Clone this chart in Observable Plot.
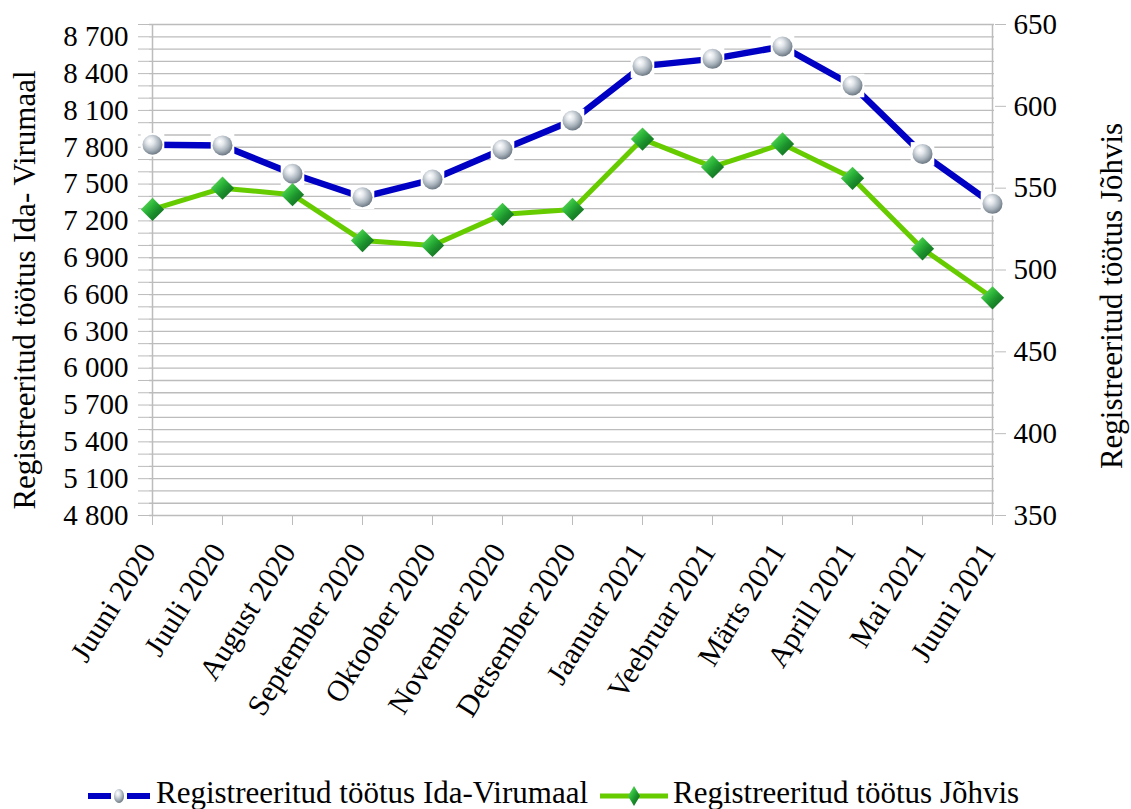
<!DOCTYPE html>
<html>
<head>
<meta charset="utf-8">
<script src="https://cdn.jsdelivr.net/npm/d3@7"></script>
<script src="https://cdn.jsdelivr.net/npm/@observablehq/plot@0.6"></script>
<style>
  html, body { margin: 0; padding: 0; background: #fff; }
  #wrap { position: relative; width: 1131px; height: 809px; background: #fff; font-family: "Liberation Serif", "Times New Roman", serif; color: #000; }
  #chart svg, #chart svg text { font-family: "Liberation Serif", "Times New Roman", serif !important; }
  #legend span.t { position: absolute; font-size: 31px; line-height: 31px; white-space: nowrap; }
  #legend svg { position: absolute; }
</style>
</head>
<body>
<div id="wrap">
  <div id="chart"></div>
  <div id="legend"></div>
</div>
<script>
// ---- data ----
const months = ["Juuni 2020", "Juuli 2020", "August 2020", "September 2020", "Oktoober 2020", "November 2020", "Detsember 2020", "Jaanuar 2021", "Veebruar 2021", "Märts 2021", "Aprill 2021", "Mai 2021", "Juuni 2021"];
const idaVirumaa = [7820, 7815, 7584, 7393, 7537, 7782, 8018, 8461, 8520, 8621, 8303, 7746, 7339];
const johvi = [537, 550, 546, 518, 515, 534, 537, 580, 563, 577, 556, 513, 483];
const leftTicks = [4800, 5100, 5400, 5700, 6000, 6300, 6600, 6900, 7200, 7500, 7800, 8100, 8400, 8700];
const rightTicks = [350, 400, 450, 500, 550, 600, 650];
const seriesNames = ["Registreeritud töötus Ida-Virumaal", "Registreeritud töötus Jõhvis"];
const leftTitle = "Registreeritud töötus Ida- Virumaal";
const rightTitle = "Registreeritud töötus Jõhvis";

// ---- scales mapping ----
const L0 = 4800, L1 = 8800, R0 = 350, R1 = 650;
const toLeft = v => L0 + (v - R0) * (L1 - L0) / (R1 - R0);
const fromLeft = v => R0 + (v - L0) * (R1 - R0) / (L1 - L0);
const fmt = n => n >= 1000 ? `${Math.floor(n / 1000)}\u00a0${String(n % 1000).padStart(3, "0")}` : String(n);

const ida = months.map((m, i) => ({month: m, value: idaVirumaa[i]}));
const joh = months.map((m, i) => ({month: m, value: johvi[i]}));
const grid = d3.range(L0, L1 + 1, 100);

const W = 1131, H = 760;
const gridColor = "#bcbcbc";
const serif = "'Liberation Serif', 'Times New Roman', serif";

const svg = Plot.plot({
  width: W, height: H,
  marginTop: 24, marginBottom: H - 515, marginLeft: 149, marginRight: W - 994,
  x: {type: "point", domain: months, padding: 0, axis: null},
  y: {domain: [L0, L1], axis: null},
  style: {fontFamily: serif, fontSize: "29px", color: "#000", background: "#fff", overflow: "visible"},
  marks: [
    Plot.gridY({ticks: grid, stroke: gridColor, strokeOpacity: 1, strokeWidth: 1.3}),
    Plot.axisY({ticks: grid, tickSize: 11, tickFormat: () => "", label: null, stroke: gridColor, strokeOpacity: 1}),
    Plot.axisY({ticks: leftTicks, tickSize: 0, tickPadding: 21, tickFormat: fmt, label: null, fontSize: 29, fontFamily: serif}),
    Plot.axisY({anchor: "right", ticks: rightTicks.map(toLeft), tickSize: 11, tickPadding: 8, tickFormat: d => String(Math.round(fromLeft(d))), label: null, stroke: gridColor, strokeOpacity: 1, fontSize: 29, fontFamily: serif}),
    Plot.axisX({tickSize: 10, tickFormat: () => "", label: null, stroke: gridColor, strokeOpacity: 1}),
    Plot.ruleX([months[0], months[months.length - 1]], {stroke: gridColor, strokeWidth: 1.5}),
    Plot.text(months, {x: d => d, frameAnchor: "bottom", dy: 31, dx: -4, rotate: -58, textAnchor: "end", lineAnchor: "middle", fontSize: 30, fontFamily: serif}),
    Plot.text([leftTitle], {frameAnchor: "left", dx: -124, dy: 20, rotate: -90, textAnchor: "middle", lineAnchor: "middle", fontSize: 31, fontFamily: serif}),
    Plot.text([rightTitle], {frameAnchor: "right", dx: 118, dy: 26, rotate: -90, textAnchor: "middle", lineAnchor: "middle", fontSize: 31, fontFamily: serif}),
    // Ida-Virumaa series (left axis)
    Plot.line(ida, {x: "month", y: "value", stroke: "#0000c4", strokeWidth: 6.5}),
    Plot.dot(ida, {x: "month", y: "value", symbol: "square", r: 13.3, fill: "#fff", stroke: "none"}),
    Plot.dot(ida, {x: "month", y: "value", r: 10, fill: "url(#sphere)", stroke: "none"}),
    // Jõhvi series (right axis)
    Plot.line(joh, {x: "month", y: d => toLeft(d.value), stroke: "#66cc00", strokeWidth: 5}),
    Plot.dot(joh, {x: "month", y: d => toLeft(d.value), symbol: "diamond2", r: 10.5, fill: "url(#gem)", stroke: "none"})
  ]
});

function addDefs(svgEl) {
  const defs = d3.select(svgEl).insert("defs", ":first-child");
  const rg = defs.append("radialGradient").attr("id", "sphere").attr("cx", "42%").attr("cy", "38%").attr("r", "62%").attr("fx", "36%").attr("fy", "30%");
  [["0%", "#ffffff"], ["30%", "#e4e8ec"], ["70%", "#a7b1ba"], ["100%", "#6e7a85"]].forEach(([o, c]) => rg.append("stop").attr("offset", o).attr("stop-color", c));
  const lg = defs.append("linearGradient").attr("id", "gem").attr("x1", "0%").attr("y1", "0%").attr("x2", "100%").attr("y2", "100%");
  [["0%", "#7fea6a"], ["40%", "#2cb63a"], ["60%", "#1c8f2c"], ["100%", "#0c5c1a"]].forEach(([o, c]) => lg.append("stop").attr("offset", o).attr("stop-color", c));
}
addDefs(svg);
document.getElementById("chart").appendChild(svg);

// ---- legend ----
const legend = document.getElementById("legend");
function legendItem(left, lineW, color, lineWidth, marker, textLeft, label) {
  const s = d3.create("svg").attr("width", lineW).attr("height", 24)
    .style("left", left + "px").style("top", "784px");
  addDefs(s.node());
  s.append("line").attr("x1", 0).attr("x2", lineW).attr("y1", 12).attr("y2", 12).attr("stroke", color).attr("stroke-width", lineWidth);
  const cx = lineW / 2;
  if (marker === "sphere") {
    s.append("rect").attr("x", cx - 8).attr("y", 3).attr("width", 16).attr("height", 18).attr("fill", "#fff");
    s.append("ellipse").attr("cx", cx).attr("cy", 12).attr("rx", 5).attr("ry", 7).attr("fill", "url(#sphere)");
  } else {
    s.append("path").attr("d", `M${cx},2 L${cx + 6},12 L${cx},22 L${cx - 6},12 Z`).attr("fill", "url(#gem)");
  }
  legend.appendChild(s.node());
  const t = document.createElement("span");
  t.className = "t";
  t.style.left = textLeft + "px";
  t.style.top = "777px";
  t.textContent = label;
  legend.appendChild(t);
}
legendItem(88, 62, "#0000c4", 6, "sphere", 156, seriesNames[0]);
legendItem(600, 68, "#66cc00", 5, "gem", 673, seriesNames[1]);
</script>
</body>
</html>
